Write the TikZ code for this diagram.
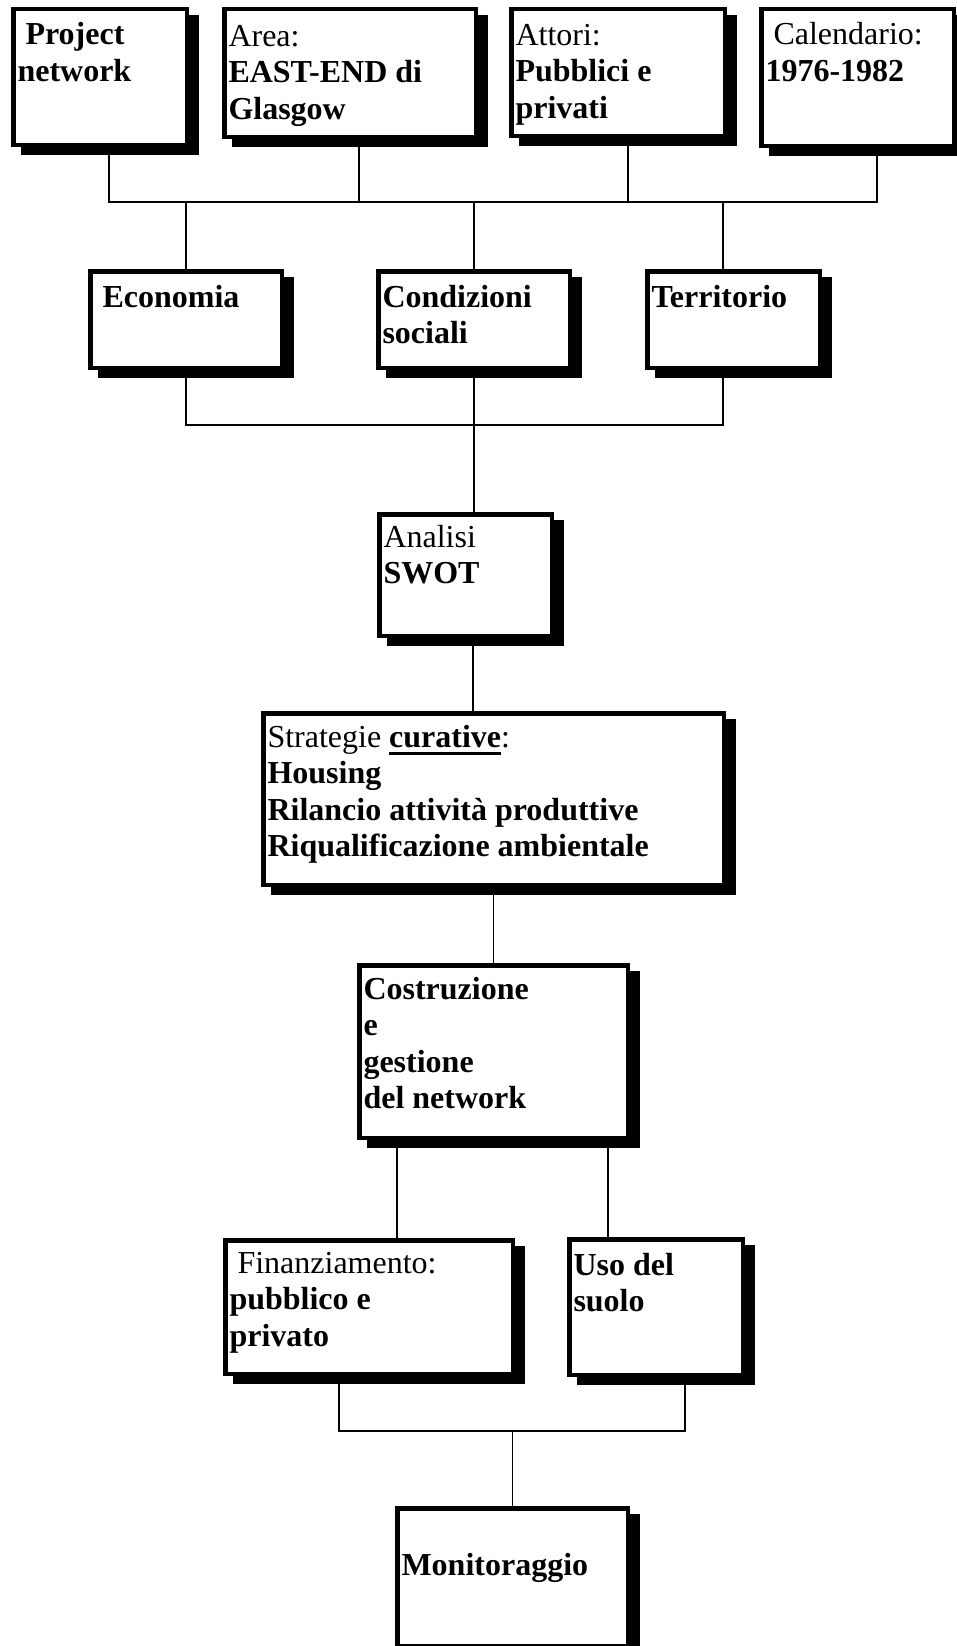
\documentclass[tikz,border=0pt]{standalone}
\usepackage{fontspec}
\setmainfont{Liberation Serif}
\usetikzlibrary{backgrounds}

% thick underline for the emphasised word
\newsavebox\ulbox
\newcommand{\heavyul}[1]{\sbox\ulbox{#1}\rlap{\rule[-8pt]{\wd\ulbox}{3.5pt}}\usebox\ulbox}

\tikzset{
  box/.style={rectangle, draw=black, fill=white, line width=4.5pt,
    inner sep=0pt, outer sep=0pt,
    preaction={draw=black, fill=black, transform canvas={shift={(9.5pt,-8pt)}}}},
  txt/.style={inner sep=0pt, outer sep=0pt, anchor=north west, align=left,
    font=\fontsize{32}{36.5}\selectfont},
  link/.style={draw=black, line width=1.3pt},
}

\begin{document}
\begin{tikzpicture}[x=1pt, y=-1pt]
\useasboundingbox (0,0) rectangle (956,1646);

% ---- top row ----
\node[box, minimum width=173.5pt, minimum height=135.5pt] (proj)   at (100,77)   {};
\node[box, minimum width=251.5pt, minimum height=127.5pt] (area)   at (350,73)   {};
\node[box, minimum width=213.5pt, minimum height=126.5pt] (attori) at (618,72.5) {};
\node[box, minimum width=192.5pt, minimum height=136.5pt] (cal)    at (857.5,77.5) {};

\node[txt] (proj-t)   at ([shift={(4.25,10.2)}]proj.north west)   {\strut\textbf{\ Project}\\\textbf{network}};
\node[txt] (area-t)   at ([shift={(4.25,11.2)}]area.north west)   {\strut Area:\\\textbf{EAST-END di}\\\textbf{Glasgow}};
\node[txt] (attori-t) at ([shift={(4.25,10.2)}]attori.north west) {\strut Attori:\\\textbf{Pubblici e}\\\textbf{privati}};
\node[txt] (cal-t)    at ([shift={(4.25,10.2)}]cal.north west)    {\strut\ Calendario:\\\textbf{1976-1982}};

% ---- themes ----
\node[box, minimum width=191.5pt, minimum height=96.5pt] (econ) at (186,319.5)   {};
\node[box, minimum width=191.5pt, minimum height=96.5pt] (cond) at (474,319.5)   {};
\node[box, minimum width=172.5pt, minimum height=96.5pt] (terr) at (733.5,319.5) {};

\node[txt] (econ-t) at ([shift={(4.25,10.2)}]econ.north west) {\strut\textbf{\ Economia}};
\node[txt] (cond-t) at ([shift={(4.25,10.2)}]cond.north west) {\strut\textbf{Condizioni}\\\textbf{sociali}};
\node[txt] (terr-t) at ([shift={(4.25,10.2)}]terr.north west) {\strut\textbf{Territorio}};

% ---- analysis and strategies ----
\node[box, minimum width=172.5pt, minimum height=121.5pt] (swot)  at (465.5,575)  {};
\node[box, minimum width=460.5pt, minimum height=171.5pt] (strat) at (493.5,799)  {};
\node[box, minimum width=268.5pt, minimum height=172.5pt] (costr) at (493.5,1051.5) {};

\node[txt] (swot-t)  at ([shift={(4.25,7.2)}]swot.north west)  {\strut Analisi\\\textbf{SWOT}};
\node[txt] (strat-t) at ([shift={(4.25,8.2)}]strat.north west) {\strut Strategie \heavyul{\textbf{curative}}:\\
  \textbf{Housing}\\\textbf{Rilancio attività produttive}\\\textbf{Riqualificazione ambientale}};
\node[txt] (costr-t) at ([shift={(4.25,8.2)}]costr.north west) {\strut\textbf{Costruzione}\\\textbf{e}\\\textbf{gestione}\\\textbf{del network}};

% ---- implementation ----
\node[box, minimum width=287.5pt, minimum height=133.5pt] (fin) at (369,1307)   {};
\node[box, minimum width=173.5pt, minimum height=135.5pt] (uso) at (656,1307)   {};
\node[box, minimum width=230.5pt, minimum height=137.5pt] (mon) at (512.5,1577) {};

\node[txt] (fin-t) at ([shift={(4.25,7.2)}]fin.north west)  {\strut\ Finanziamento:\\\textbf{pubblico e}\\\textbf{privato}};
\node[txt] (uso-t) at ([shift={(4.25,10.2)}]uso.north west) {\strut\textbf{Uso del}\\\textbf{suolo}};
\node[txt] (mon-t) at ([shift={(4.25,41.2)}]mon.north west) {\strut\textbf{Monitoraggio}};

% ---- connectors ----
\coordinate (busT) at (0,202);
\coordinate (busM) at (0,425);
\coordinate (busB) at (0,1431);

\begin{scope}[on background layer]
  \coordinate (d1) at ([xshift=9pt]proj.south);
  \coordinate (d2) at ([xshift=9pt]area.south);
  \coordinate (d3) at ([xshift=10pt]attori.south);
  \coordinate (d4) at ([xshift=19.5pt]cal.south);
  \draw[link] (d1) |- (d4 |- busT) -- (d4);
  \draw[link] (d2) -- (d2 |- busT);
  \draw[link] (d3) -- (d3 |- busT);

  \coordinate (u3) at ([xshift=-10.5pt]terr.north);
  \draw[link] (econ.north) -- (econ.north |- busT);
  \draw[link] (cond.north) -- (cond.north |- busT);
  \draw[link] (u3) -- (u3 |- busT);

  \coordinate (l3) at ([xshift=-10.5pt]terr.south);
  \draw[link] (econ.south) |- (l3 |- busM) -- (l3);
  \draw[link] (cond.south) -- ([yshift=-8pt]cond.south |- swot.north);

  \coordinate (s1) at ([xshift=7.5pt]swot.south);
  \draw[link] (s1) -- (s1 |- strat.north);
  \draw[link] (strat.south) -- ([yshift=-7pt]costr.north);

  \coordinate (f1) at ([xshift=28pt]fin.north);
  \coordinate (g1) at ([xshift=-48pt]uso.north);
  \draw[link] (f1 |- costr.south) -- (f1);
  \draw[link] (g1 |- costr.south) -- (g1);

  \coordinate (f2) at ([xshift=-30pt]fin.south);
  \coordinate (g2) at ([xshift=29pt]uso.south);
  \draw[link] (f2) |- (g2 |- busB) -- (g2);
  \draw[link] (mon.north) -- (mon.north |- busB);
\end{scope}
\end{tikzpicture}
\end{document}
